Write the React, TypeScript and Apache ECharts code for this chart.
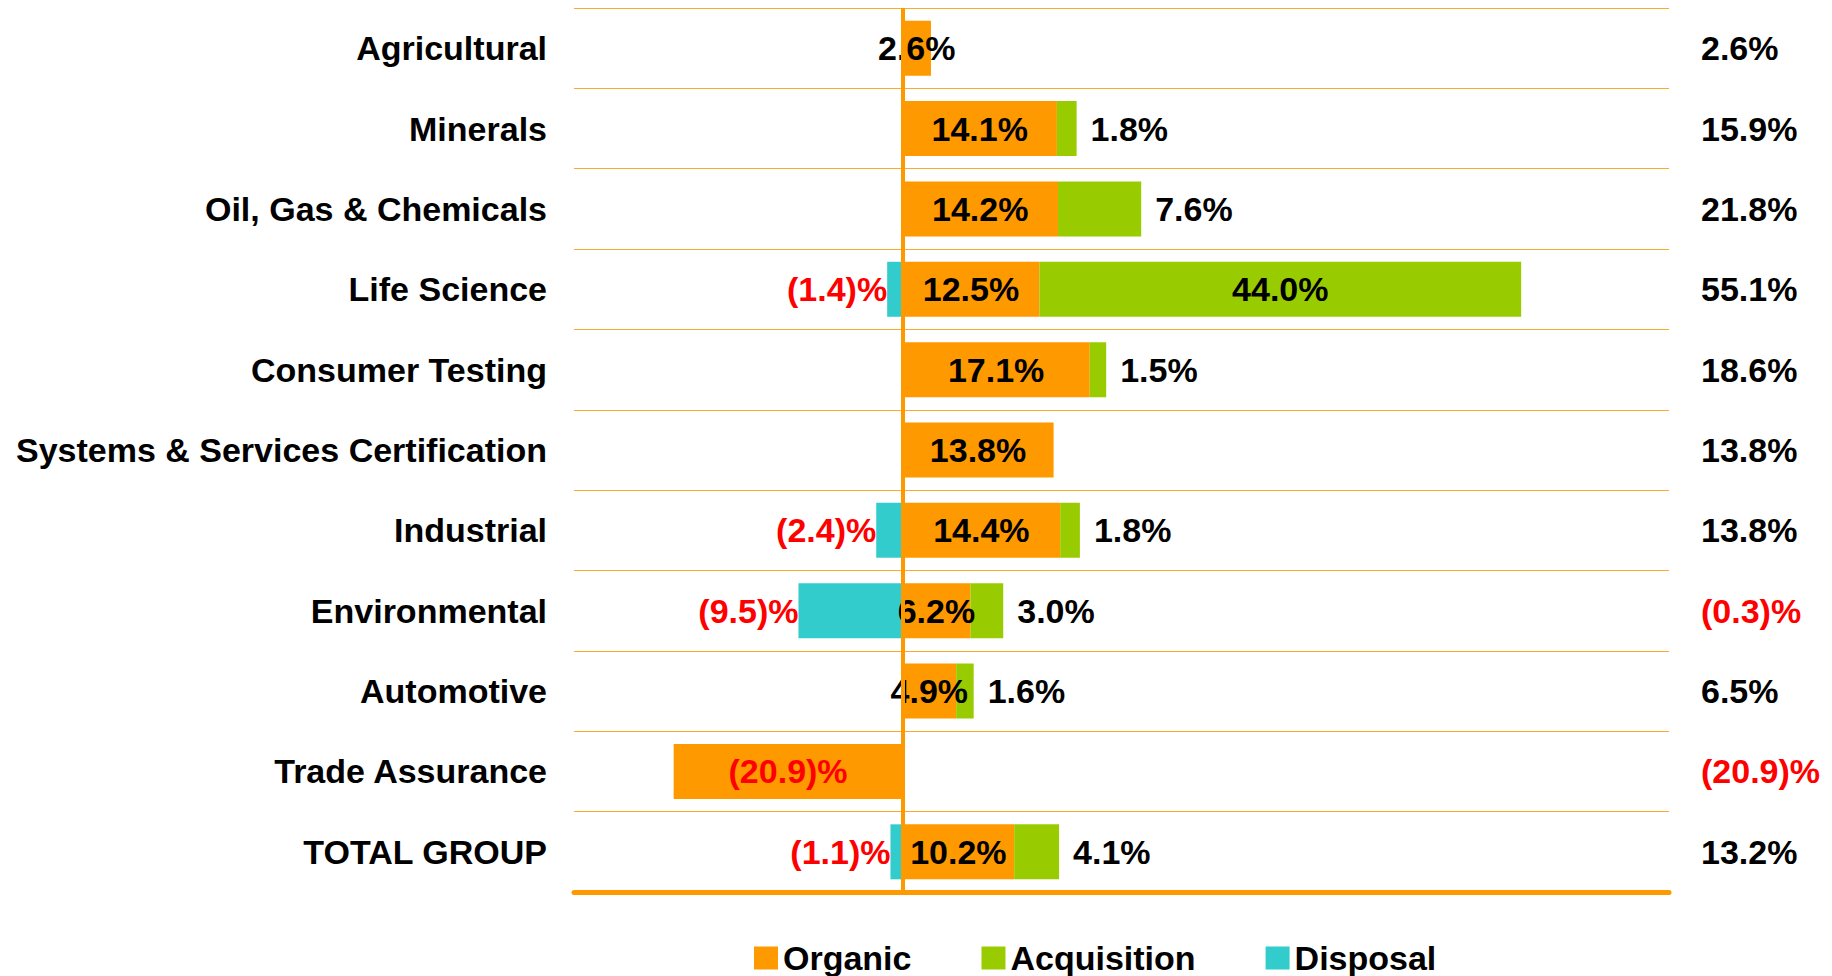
import { useEffect, useRef } from "react";
import * as echarts from "echarts";

const categories = [
  "Agricultural",
  "Minerals",
  "Oil, Gas & Chemicals",
  "Life Science",
  "Consumer Testing",
  "Systems & Services Certification",
  "Industrial",
  "Environmental",
  "Automotive",
  "Trade Assurance",
  "TOTAL GROUP",
];
const organic = [2.6, 14.1, 14.2, 12.5, 17.1, 13.8, 14.4, 6.2, 4.9, -20.9, 10.2];
const acquisition = [null, 1.8, 7.6, 44.0, 1.5, null, 1.8, 3.0, 1.6, null, 4.1];
const disposal = [null, null, null, -1.4, null, null, -2.4, -9.5, null, null, -1.1];
const totals = [2.6, 15.9, 21.8, 55.1, 18.6, 13.8, 13.8, -0.3, 6.5, -20.9, 13.2];
const seriesNames = ["Organic", "Acquisition", "Disposal"];
const xMin = -30;
const xMax = 70;

const ORANGE = "#FF9900";
const GREEN = "#99CC00";
const CYAN = "#33CCCC";
const RED = "#FF0000";
const FONT = "'Liberation Sans', Arial, sans-serif";
const FS = 34;

const fmt = (v: number) =>
  v < 0 ? `(${Math.abs(v).toFixed(1)})%` : `${v.toFixed(1)}%`;

export default function App() {
  const ref = useRef<HTMLDivElement>(null);
  useEffect(() => {
    if (!ref.current) return;
    const chart = echarts.init(ref.current, undefined, { renderer: "svg" });
    const baseLabel = {
      show: true,
      fontSize: FS,
      fontWeight: "bold" as const,
      fontFamily: FONT,
      formatter: (p: any) => fmt(p.value),
    };
    const option: any = {
      animation: false,
      backgroundColor: "#fff",
      grid: { left: 574, right: 163, top: 8, bottom: 84, containLabel: false },
      legend: {
        left: 749,
        top: 936,
        icon: "rect",
        itemWidth: 24,
        itemHeight: 23,
        itemGap: 70,
        data: seriesNames,
        textStyle: { fontSize: FS, fontWeight: "bold", fontFamily: FONT, color: "#000" },
      },
      xAxis: {
        type: "value",
        min: xMin,
        max: xMax,
        axisLabel: { show: false },
        axisTick: { show: false },
        splitLine: { show: false },
        axisLine: { show: true, lineStyle: { color: ORANGE, width: 5, cap: "round" } },
      },
      yAxis: [
        {
          type: "category",
          data: categories,
          inverse: true,
          axisLine: { show: false },
          axisTick: { show: false },
          splitLine: { show: true, interval: 0, lineStyle: { color: "#FBAA2E", width: 1.2 } },
          axisLabel: {
            margin: 27,
            fontSize: FS,
            fontWeight: "bold",
            fontFamily: FONT,
            color: "#000",
            interval: 0,
          },
        },
        {
          type: "category",
          data: categories,
          inverse: true,
          position: "right",
          axisLine: { show: false },
          axisTick: { show: false },
          splitLine: { show: false },
          axisLabel: {
            margin: 32,
            align: "left",
            interval: 0,
            formatter: (_v: string, i: number) =>
              totals[i] < 0 ? `{neg|${fmt(totals[i])}}` : `{pos|${fmt(totals[i])}}`,
            rich: {
              pos: { fontSize: FS, fontWeight: "bold", fontFamily: FONT, color: "#000" },
              neg: { fontSize: FS, fontWeight: "bold", fontFamily: FONT, color: RED },
            },
          },
        },
      ],
      series: [
        {
          name: seriesNames[0],
          type: "bar",
          stack: "growth",
          barWidth: 55,
          itemStyle: { color: ORANGE },
          data: organic.map((v) => ({
            value: v,
            label: { ...baseLabel, position: "inside", color: v < 0 ? RED : "#000" },
          })),
          markLine: {
            silent: true,
            symbol: "none",
            label: { show: false },
            lineStyle: { color: ORANGE, width: 4, type: "solid" },
            data: [{ xAxis: 0 }],
          },
        },
        {
          name: seriesNames[1],
          type: "bar",
          stack: "growth",
          barWidth: 55,
          itemStyle: { color: GREEN },
          data: acquisition.map((v) =>
            v == null
              ? "-"
              : {
                  value: v,
                  label: {
                    ...baseLabel,
                    position: v >= 10 ? "inside" : "right",
                    distance: 14,
                    color: "#000",
                  },
                }
          ),
        },
        {
          name: seriesNames[2],
          type: "bar",
          stack: "growth",
          barWidth: 55,
          itemStyle: { color: CYAN },
          data: disposal.map((v) =>
            v == null
              ? "-"
              : {
                  value: v,
                  label: { ...baseLabel, position: "left", distance: 0, color: RED },
                }
          ),
        },
      ],
    };
    chart.setOption(option);
    return () => chart.dispose();
  }, []);
  return (
    <div
      ref={ref}
      style={{ position: "fixed", left: 0, top: 0, width: 1832, height: 976, background: "#fff" }}
    />
  );
}
